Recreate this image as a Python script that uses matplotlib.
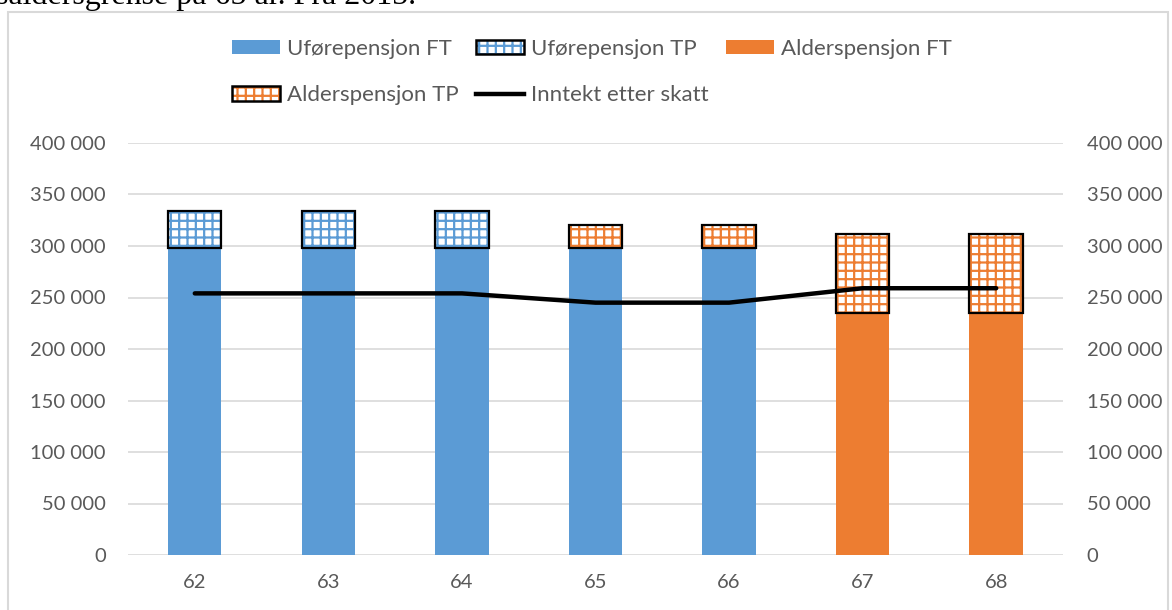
import matplotlib.pyplot as plt
from matplotlib.patches import Rectangle, Patch
from matplotlib.lines import Line2D
from matplotlib.legend_handler import HandlerTuple

# data
ages = ["62", "63", "64", "65", "66", "67", "68"]
ufore_ft = [298000, 298000, 298000, 298000, 298000, 0, 0]
ufore_tp = [36000, 36000, 36000, 0, 0, 0, 0]
alders_ft = [0, 0, 0, 0, 0, 235000, 235000]
alders_tp = [0, 0, 0, 22000, 22000, 76500, 76500]
inntekt = [254000, 254000, 254000, 245000, 245000, 259000, 259000]

blue = "#5b9bd5"
orange = "#ed7d31"
grey_txt = "#595959"
grid_col = "#d9d9d9"

plt.rcParams["font.family"] = ["Lato", "DejaVu Sans"]
plt.rcParams["hatch.linewidth"] = 1.6

W, H = 1172, 610
fig = plt.figure(figsize=(W / 100, H / 100), dpi=100)
fig.patch.set_facecolor("white")

# cut-off text from the document above the chart
fig.text(-4 / W, 1 - 4 / H, "saldersgrense på 65 år. Fra 2015.", fontsize=23,
         family=["Liberation Serif", "DejaVu Serif"], ha="left", va="baseline")

# chart frame
fig.patches.append(Rectangle((8 / W, -0.05), (1168 - 8) / W, 1.05 - 12 / H,
                             transform=fig.transFigure, fill=False,
                             edgecolor=grid_col, linewidth=1.5))

ax = fig.add_axes([128 / W, 1 - 555 / H, 935 / W, 412 / H])
x = list(range(len(ages)))
w = 0.4

def draw_stack(vals, bottoms, color, hatched):
    idx = [i for i in x if vals[i] > 0]
    xs = [x[i] for i in idx]
    hs = [vals[i] for i in idx]
    bs = [bottoms[i] for i in idx]
    if hatched:
        ax.bar(xs, hs, w, bottom=bs, color="white", edgecolor=color,
               hatch="++", linewidth=0, zorder=2)
        ax.bar(xs, hs, w, bottom=bs, fill=False, edgecolor="black",
               linewidth=1.6, zorder=3)
    else:
        ax.bar(xs, hs, w, bottom=bs, color=color, linewidth=0, zorder=2)

zeros = [0] * len(ages)
base = [a + b for a, b in zip(ufore_ft, alders_ft)]
draw_stack(ufore_ft, zeros, blue, False)
draw_stack(alders_ft, ufore_ft, orange, False)
draw_stack(ufore_tp, base, blue, True)
base2 = [a + b for a, b in zip(base, ufore_tp)]
draw_stack(alders_tp, base2, orange, True)

ax.plot(x, inntekt, color="black", linewidth=3.2, solid_capstyle="round", zorder=4)

ax.set_xlim(-0.5, len(ages) - 0.5)
ax.set_ylim(0, 400000)
ticks = list(range(0, 400001, 50000))
labels = [f"{t:,}".replace(",", " ") for t in ticks]
ax.set_yticks(ticks)
ax.set_yticklabels(labels)
ax.set_xticks(x)
ax.set_xticklabels(ages)
ax.yaxis.grid(True, color=grid_col, linewidth=1.2, zorder=0)
ax.set_axisbelow(True)
for s in ax.spines.values():
    s.set_visible(False)
ax.tick_params(length=0, labelsize=14.5, colors=grey_txt)
ax.tick_params(axis="y", pad=16)
ax.tick_params(axis="x", pad=14)

ax2 = ax.twinx()
ax2.set_ylim(0, 400000)
ax2.set_yticks(ticks)
ax2.set_yticklabels(labels)
for s in ax2.spines.values():
    s.set_visible(False)
ax2.tick_params(length=0, labelsize=14.5, colors=grey_txt, pad=17)

# legend
h_uft = Patch(facecolor=blue, linewidth=0)
h_utp = (Patch(facecolor="white", edgecolor=blue, hatch="++", linewidth=0),
         Patch(fill=False, edgecolor="black", linewidth=1.8))
h_aft = Patch(facecolor=orange, linewidth=0)
h_atp = (Patch(facecolor="white", edgecolor=orange, hatch="++", linewidth=0),
         Patch(fill=False, edgecolor="black", linewidth=1.8))
h_inn = Line2D([], [], color="black", linewidth=3.2)
handles = [h_uft, h_atp, h_utp, h_inn, h_aft]
names = ["Uførepensjon FT", "Alderspensjon TP", "Uførepensjon TP",
         "Inntekt etter skatt", "Alderspensjon FT"]
fig.legend(handles, names, ncol=3, loc="center", bbox_to_anchor=(592 / W, 1 - 72 / H),
           frameon=False, fontsize=16, labelcolor=grey_txt,
           handlelength=2.15, handleheight=0.6, handletextpad=0.3,
           columnspacing=0.8, labelspacing=1.2,
           handler_map={tuple: HandlerTuple(ndivide=1, pad=0)})

fig.savefig("out.png", dpi=100, facecolor="white")
